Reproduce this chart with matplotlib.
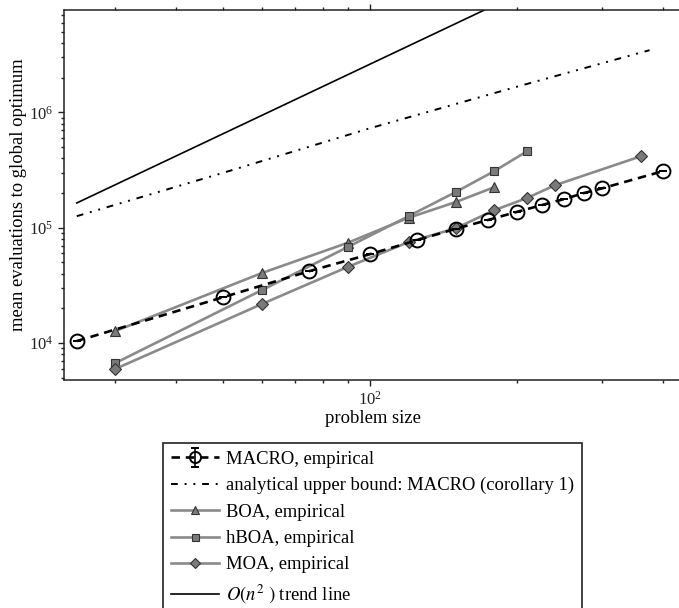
import matplotlib
matplotlib.use("Agg")
import matplotlib.pyplot as plt
from matplotlib.ticker import LogLocator, NullFormatter, LogFormatterMathtext

plt.rcParams['font.family'] = ['Liberation Serif', 'DejaVu Serif']
plt.rcParams['mathtext.fontset'] = 'stix'

# ---- data ----
macro_n = [25, 50, 75, 100, 125, 150, 175, 200, 225, 250, 275, 300, 400]
macro_evals = [1.04e4, 2.5e4, 4.2e4, 5.9e4, 7.8e4, 9.8e4, 1.17e5, 1.37e5, 1.57e5, 1.77e5, 2.0e5, 2.2e5, 3.1e5]
macro_err = [0, 0, 0, 0, 0, 0, 0, 0, 0, 0, 0, 0, 0]

bound_n = [25, 50, 100, 200, 375]
bound_evals = [1.26e5, 3.0e5, 7.3e5, 1.67e6, 3.47e6]

boa_n = [30, 60, 90, 120, 150, 180]
boa_evals = [1.27e4, 4.05e4, 7.4e4, 1.22e5, 1.67e5, 2.25e5]

hboa_n = [30, 60, 90, 120, 150, 180, 210]
hboa_evals = [6.7e3, 2.88e4, 6.8e4, 1.26e5, 2.04e5, 3.1e5, 4.6e5]

moa_n = [30, 60, 90, 120, 150, 180, 210, 240, 360]
moa_evals = [5.96e3, 2.18e4, 4.57e4, 7.5e4, 9.9e4, 1.42e5, 1.81e5, 2.34e5, 4.17e5]

trend_n = [25, 400]
trend_evals = [1.64e5, 4.2e7]

labels = ["MACRO, empirical",
          "analytical upper bound: MACRO (corollary 1)",
          "BOA, empirical",
          "hBOA, empirical",
          "MOA, empirical",
          r"$O(n^2\ )$ trend line"]

# ---- figure ----
W, H = 679, 608
fig = plt.figure(figsize=(W / 100, H / 100), dpi=100)
left, right, top, bottom = 64, 682, 10, 380
ax = fig.add_axes([left / W, 1 - bottom / H, (right - left) / W, (bottom - top) / H])
ax.set_xscale('log')
ax.set_yscale('log')

gray_line = '#8a8a8a'
gray_face = '#7a7a7a'
gray_edge = '#333333'

h_macro = ax.errorbar(macro_n, macro_evals, yerr=macro_err, fmt='o', linestyle=(0, (3.2, 2.2)),
                      color='black', lw=1.9, markersize=10, markerfacecolor='none',
                      markeredgewidth=1.4, capsize=3, elinewidth=1.2, zorder=5)
h_bound, = ax.plot(bound_n, bound_evals, color='black', lw=1.4,
                   linestyle=(0, (3.5, 3.5, 1, 3.5, 1, 3.5)))
h_boa, = ax.plot(boa_n, boa_evals, color=gray_line, lw=1.9, marker='^', markersize=7,
                 markerfacecolor=gray_face, markeredgecolor=gray_edge, markeredgewidth=0.8)
h_hboa, = ax.plot(hboa_n, hboa_evals, color=gray_line, lw=1.9, marker='s', markersize=6.3,
                  markerfacecolor=gray_face, markeredgecolor=gray_edge, markeredgewidth=0.8)
h_moa, = ax.plot(moa_n, moa_evals, color=gray_line, lw=1.9, marker='D', markersize=6.3,
                 markerfacecolor=gray_face, markeredgecolor=gray_edge, markeredgewidth=0.8)
h_trend, = ax.plot(trend_n, trend_evals, color='black', lw=1.2)

x0 = 10 ** (2 - (370 - left) / 487)
x1 = 10 ** (2 + (right - 370) / 487)
y0 = 10 ** (4 - (bottom - 343) / 115.3)
y1 = 10 ** (6 + (112.5 - top) / 115.3)
ax.set_xlim(x0, x1)
ax.set_ylim(y0, y1)

for ax_ in (ax.xaxis, ax.yaxis):
    ax_.set_major_locator(LogLocator(base=10, numticks=20))
    ax_.set_minor_locator(LogLocator(base=10, subs=range(2, 10), numticks=20))
    ax_.set_major_formatter(LogFormatterMathtext())
    ax_.set_minor_formatter(NullFormatter())

ax.tick_params(which='both', direction='out', top=True, right=True, colors='#222222',
               labelsize=12, width=1.0)
ax.tick_params(which='major', length=4.5, pad=3)
ax.tick_params(which='minor', length=2.5)
for s in ax.spines.values():
    s.set_linewidth(1.1)
    s.set_color('#222222')

ax.set_xlabel("problem size", fontsize=13.4, labelpad=1)
ax.set_ylabel("mean evaluations to global optimum", fontsize=13.4, labelpad=1.5)

leg = fig.legend([h_macro, h_bound, h_boa, h_hboa, h_moa, h_trend], labels,
                 loc='upper left', bbox_to_anchor=(163 / W, 1 - 443 / H),
                 bbox_transform=fig.transFigure, fontsize=13.4, frameon=True,
                 fancybox=False, edgecolor='#222222', framealpha=1,
                 handlelength=2.6, handletextpad=0.35, labelspacing=0.5,
                 borderpad=0.42, borderaxespad=0, markerscale=0.8)
leg.get_frame().set_linewidth(1.2)

fig.savefig("out.png", dpi=100)
